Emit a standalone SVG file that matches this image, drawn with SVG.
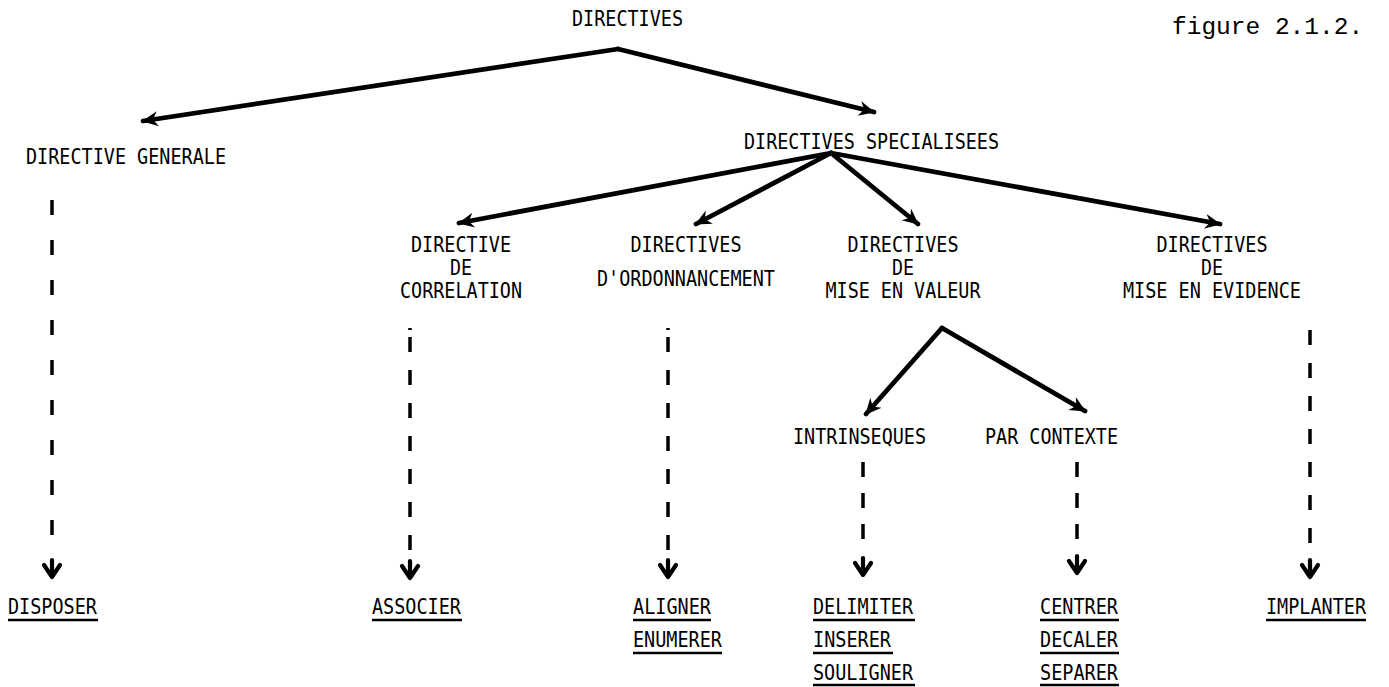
<svg xmlns="http://www.w3.org/2000/svg" xmlns:xlink="http://www.w3.org/1999/xlink" width="1389" height="687" viewBox="0 0 1389 687">
<style>
.t{font-family:"DejaVu Sans Mono","Liberation Mono",monospace;font-size:20.5px;fill:#000}
.m{text-anchor:middle}
.fig{font-family:"Liberation Mono","DejaVu Sans Mono",monospace;font-size:24.5px;fill:#000}
.c{stroke:#000;stroke-width:4.8;fill:none;stroke-linecap:round;marker-end:url(#ah)}
.d{stroke:#000;stroke-width:3.5;fill:none}
.h{stroke:#000;stroke-width:4.2;fill:none;stroke-linecap:round;stroke-linejoin:round}
.u{stroke:#000;stroke-width:2.5}
</style>
<defs>
<marker id="ah" markerUnits="userSpaceOnUse" viewBox="-18 -9 20 18" refX="0" refY="0" markerWidth="20" markerHeight="18" orient="auto">
<path d="M1,0 L-15,-7.5 L-10,0 L-15,7.5 Z" fill="#000"/>
</marker>
<path id="chev" d="M-8,-12 L0,0 L8,-12 M0,-17 V0"/>
</defs>
<rect width="1389" height="687" fill="#fff"/>

<g id="connectors">
<path class="c" d="M618,49 L143,121"/>
<path class="c" d="M618,49 L874,112"/>
<path class="c" d="M831,153 L459,223"/>
<path class="c" d="M831,153 L696,224"/>
<path class="c" d="M831,153 L918,224"/>
<path class="c" d="M831,153 L1220,224"/>
<path class="c" d="M942,328 L866,414"/>
<path class="c" d="M942,328 L1085,411"/>
<path class="d" d="M52,200 V540" stroke-dasharray="15 25"/>
<path class="d" d="M410,328 V550" stroke-dasharray="2 7 15 18 15 18 15 18 15 18 15 18 15 18 15 18"/>
<path class="d" d="M668,328 V550" stroke-dasharray="2 7 15 18 15 18 15 18 15 18 15 18 15 18 15 18"/>
<path class="d" d="M863,462 V540" stroke-dasharray="15 16"/>
<path class="d" d="M1077,462 V540" stroke-dasharray="15 16"/>
<path class="d" d="M1310,330 V550" stroke-dasharray="15 18"/>
<use class="h" xlink:href="#chev" x="52" y="577"/>
<use class="h" xlink:href="#chev" x="410" y="578"/>
<use class="h" xlink:href="#chev" x="668" y="577"/>
<use class="h" xlink:href="#chev" x="863" y="575"/>
<use class="h" xlink:href="#chev" x="1077" y="573"/>
<use class="h" xlink:href="#chev" x="1310" y="577"/>
</g>

<g id="n-directives"><text class="t" x="572" y="26" textLength="111" lengthAdjust="spacingAndGlyphs">DIRECTIVES</text></g>
<g id="n-figure"><text class="fig" x="1172" y="34">figure 2.1.2.</text></g>
<g id="n-generale"><text class="t" x="26" y="164" textLength="200" lengthAdjust="spacingAndGlyphs">DIRECTIVE GENERALE</text></g>
<g id="n-specialisees"><text class="t" x="744" y="149" textLength="255" lengthAdjust="spacingAndGlyphs">DIRECTIVES SPECIALISEES</text></g>

<g id="n-correlation">
<text class="t m" x="461" y="252" textLength="100" lengthAdjust="spacingAndGlyphs">DIRECTIVE</text>
<text class="t m" x="461" y="275" textLength="22" lengthAdjust="spacingAndGlyphs">DE</text>
<text class="t m" x="461" y="298" textLength="122" lengthAdjust="spacingAndGlyphs">CORRELATION</text>
</g>
<g id="n-ordonnancement">
<text class="t m" x="686" y="252" textLength="111" lengthAdjust="spacingAndGlyphs">DIRECTIVES</text>
<text class="t m" x="686" y="286" textLength="178" lengthAdjust="spacingAndGlyphs">D'ORDONNANCEMENT</text>
</g>
<g id="n-valeur">
<text class="t m" x="903" y="252" textLength="111" lengthAdjust="spacingAndGlyphs">DIRECTIVES</text>
<text class="t m" x="903" y="275" textLength="22" lengthAdjust="spacingAndGlyphs">DE</text>
<text class="t m" x="903" y="298" textLength="155" lengthAdjust="spacingAndGlyphs">MISE EN VALEUR</text>
</g>
<g id="n-evidence">
<text class="t m" x="1212" y="252" textLength="111" lengthAdjust="spacingAndGlyphs">DIRECTIVES</text>
<text class="t m" x="1212" y="275" textLength="22" lengthAdjust="spacingAndGlyphs">DE</text>
<text class="t m" x="1212" y="298" textLength="178" lengthAdjust="spacingAndGlyphs">MISE EN EVIDENCE</text>
</g>
<g id="n-intrinseques"><text class="t" x="793" y="444" textLength="133" lengthAdjust="spacingAndGlyphs">INTRINSEQUES</text></g>
<g id="n-contexte"><text class="t" x="985" y="444" textLength="133" lengthAdjust="spacingAndGlyphs">PAR CONTEXTE</text></g>

<g id="n-disposer"><text class="t" x="8" y="614" textLength="89" lengthAdjust="spacingAndGlyphs">DISPOSER</text><line class="u" x1="8" y1="620" x2="98" y2="620"/></g>
<g id="n-associer"><text class="t" x="372" y="614" textLength="89" lengthAdjust="spacingAndGlyphs">ASSOCIER</text><line class="u" x1="372" y1="620" x2="462" y2="620"/></g>
<g id="n-ordonnancement-leaves">
<text class="t" x="633" y="614" textLength="78" lengthAdjust="spacingAndGlyphs">ALIGNER</text><line class="u" x1="633" y1="620" x2="711" y2="620"/>
<text class="t" x="633" y="647" textLength="89" lengthAdjust="spacingAndGlyphs">ENUMERER</text><line class="u" x1="633" y1="653" x2="722" y2="653"/>
</g>
<g id="n-intrinseques-leaves">
<text class="t" x="813" y="614" textLength="100" lengthAdjust="spacingAndGlyphs">DELIMITER</text><line class="u" x1="813" y1="620" x2="915" y2="620"/>
<text class="t" x="813" y="647" textLength="78" lengthAdjust="spacingAndGlyphs">INSERER</text><line class="u" x1="813" y1="653" x2="893" y2="653"/>
<text class="t" x="813" y="680" textLength="100" lengthAdjust="spacingAndGlyphs">SOULIGNER</text><line class="u" x1="813" y1="685" x2="915" y2="685"/>
</g>
<g id="n-contexte-leaves">
<text class="t" x="1040" y="614" textLength="78" lengthAdjust="spacingAndGlyphs">CENTRER</text><line class="u" x1="1040" y1="620" x2="1119" y2="620"/>
<text class="t" x="1040" y="647" textLength="78" lengthAdjust="spacingAndGlyphs">DECALER</text><line class="u" x1="1040" y1="653" x2="1119" y2="653"/>
<text class="t" x="1040" y="680" textLength="78" lengthAdjust="spacingAndGlyphs">SEPARER</text><line class="u" x1="1040" y1="685" x2="1119" y2="685"/>
</g>
<g id="n-implanter"><text class="t" x="1266" y="614" textLength="100" lengthAdjust="spacingAndGlyphs">IMPLANTER</text><line class="u" x1="1266" y1="620" x2="1366" y2="620"/></g>
</svg>
